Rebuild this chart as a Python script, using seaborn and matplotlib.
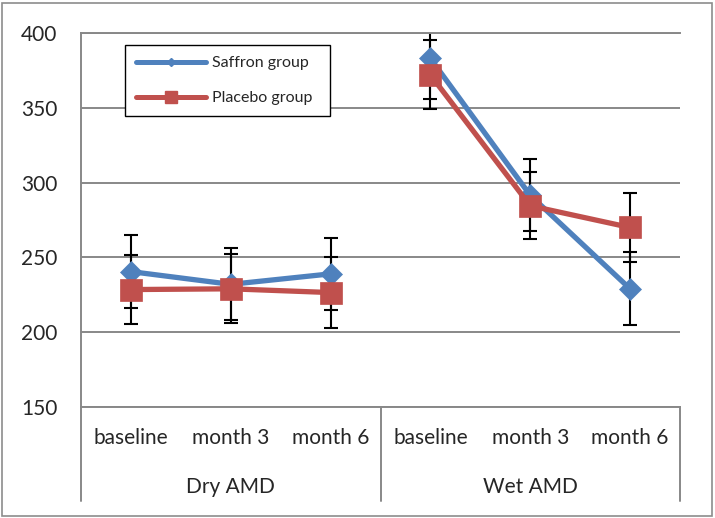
import matplotlib
matplotlib.use("Agg")
import matplotlib.pyplot as plt
import pandas as pd
import seaborn as sns
from matplotlib.lines import Line2D
from matplotlib.patches import Rectangle

# values
groups = ["Dry AMD", "Wet AMD"]
timepoints = ["baseline", "month 3", "month 6"]
saffron_mean = [240.5, 232, 239, 383, 291.5, 229]
saffron_sd = [24.5, 24, 24, 27, 24, 24.5]
placebo_mean = [228.5, 229, 226.5, 372, 284.5, 270]
placebo_sd = [23, 23, 23.5, 23, 22.5, 23]

BLUE = "#4F81BD"
RED = "#C0504D"
GRID = "#888888"

rows = []
for name, means, sds in [("Saffron group", saffron_mean, saffron_sd),
                         ("Placebo group", placebo_mean, placebo_sd)]:
    for i, (m, s) in enumerate(zip(means, sds)):
        rows.append({"series": name, "group": groups[i // 3],
                     "time": timepoints[i % 3], "pos": i, "mean": m, "sd": s})
df = pd.DataFrame(rows)

sns.set_style("white")
plt.rcParams["font.family"] = ["Lato", "DejaVu Sans"]

fig, ax = plt.subplots(figsize=(7.15, 5.18), dpi=100)
fig.subplots_adjust(left=81/715, right=680/715, top=1-33/518, bottom=1-407/518)

styles = {"Saffron group": (BLUE, "D", 11.5), "Placebo group": (RED, "s", 16)}
for name, (color, marker, ms) in styles.items():
    for g in groups:
        sub = df[(df.series == name) & (df.group == g)]
        ax.errorbar(sub["pos"], sub["mean"], yerr=sub["sd"], fmt="none",
                    ecolor="black", elinewidth=1.5, capsize=4.7, capthick=1.5, zorder=2)
        sns.lineplot(data=sub, x="pos", y="mean", ax=ax, color=color, lw=3.8,
                     marker=marker, ms=ms, mec=color, mew=0.5, zorder=3, legend=False)

ax.set_xlim(-0.5, 5.5)
ax.set_ylim(150, 400)
ax.set_yticks(range(150, 401, 50))
ax.yaxis.grid(True, color=GRID, lw=1.4)
ax.set_xlabel("")
ax.set_ylabel("")

ax.set_xticks(range(6))
ax.set_xticklabels(timepoints * 2)
ax.tick_params(axis="x", length=0, pad=15, labelsize=15)
ax.tick_params(axis="y", length=0, pad=17, labelsize=15)

for side in ["left", "bottom", "top"]:
    ax.spines[side].set_color(GRID)
    ax.spines[side].set_linewidth(1.4)
ax.spines["right"].set_visible(False)

# two-level category axis
trans = ax.get_xaxis_transform()
for xv in [-0.5, 2.5, 5.5]:
    ax.plot([xv, xv], [0, -0.2513], transform=trans, clip_on=False, color=GRID, lw=1.4)
for k, g in enumerate(groups):
    ax.text(3*k + 1, -0.214, g, transform=trans, ha="center", va="center", fontsize=15)

handles = [
    Line2D([], [], color=BLUE, lw=3.6, marker="D", ms=4.5, mec=BLUE),
    Line2D([], [], color=RED, lw=3.6, marker="s", ms=8, mec=RED),
]
leg = ax.legend(handles, ["Saffron group", "Placebo group"], loc="upper left",
                bbox_to_anchor=(0.0735, 0.773, 0.3425, 0.195), mode="expand",
                borderaxespad=0, fontsize=11.5, handlelength=4.4, handletextpad=0.35,
                labelspacing=1.3, borderpad=0.7, fancybox=False, framealpha=1,
                edgecolor="black")
leg.get_frame().set_linewidth(1.0)

fig.add_artist(Rectangle((2/715, 2/518), 710/715, 513/518, transform=fig.transFigure,
                         fill=False, ec="#8c8c8c", lw=1.2))

fig.savefig("out.png", dpi=100)
